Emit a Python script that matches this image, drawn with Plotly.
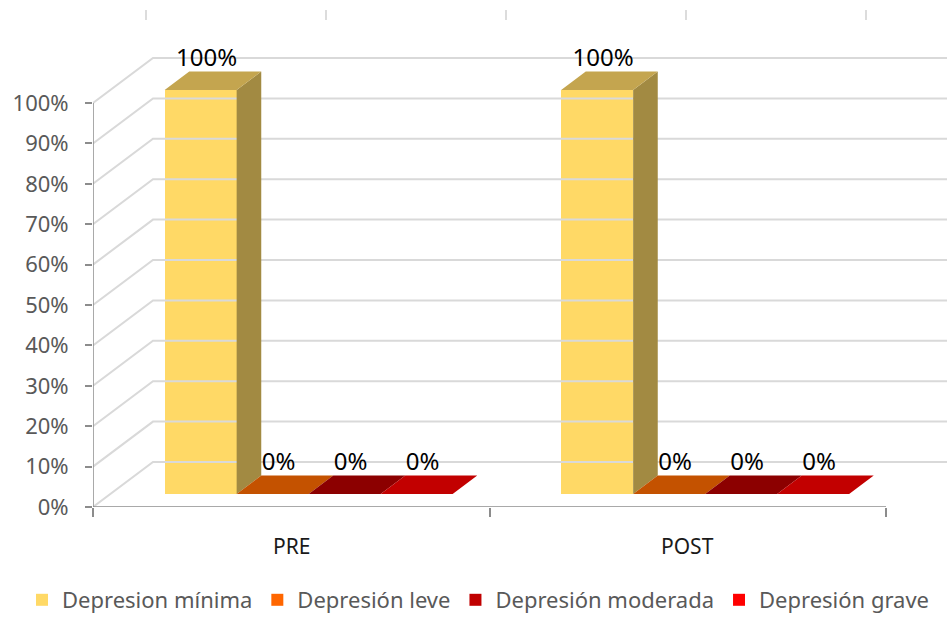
import plotly.graph_objects as go

# ---------------- data ----------------
categories = ["PRE", "POST"]
series_names = ["Depresion mínima", "Depresión leve", "Depresión moderada", "Depresión grave"]
pre_values = [100, 0, 0, 0]
post_values = [100, 0, 0, 0]
y_tick_values = [0, 10, 20, 30, 40, 50, 60, 70, 80, 90, 100]
y_tick_labels = [f"{v}%" for v in y_tick_values]

# ---------------- styles ----------------
front_colors = ["#FFD966", "#FF6600", "#C00000", "#FF0000"]
top_colors = ["#C4A54F", "#C45200", "#8C0000", "#C20000"]
side_colors = ["#A28A42", "#A04300", "#700000", "#9C0000"]
grid_color = "#D9D9D9"
axis_color = "#8C8C8C"
FONT = "Noto Sans"

# geometry (x units = pixels, y units = percent)
CAT_W = 396.5            # width of one category on the front plane
PX_PER_PCT = 4.04        # vertical pixels per percent
FLOOR_DX = 60.0          # depth offset of the back wall (x units)
FLOOR_DY = 45.0 / PX_PER_PCT
BAR_W = 72.0
F_FRONT = 0.29           # bar front position in depth (fraction)
F_DEPTH = 0.41           # bar depth (fraction)
b_dx, b_dy = FLOOR_DX * F_FRONT, FLOOR_DY * F_FRONT
d_dx, d_dy = FLOOR_DX * F_DEPTH, FLOOR_DY * F_DEPTH

values_by_cat = [pre_values, post_values]
n_series = len(series_names)
x_max = CAT_W * len(categories)

fig = go.Figure()

# back wall gridlines + left wall diagonals
gx, gy = [], []
for v in y_tick_values:
    gx += [0, FLOOR_DX, x_max + FLOOR_DX + 2, None]
    gy += [v, v + FLOOR_DY, v + FLOOR_DY, None]
fig.add_trace(go.Scatter(x=gx, y=gy, mode="lines", line=dict(color=grid_color, width=2),
                         hoverinfo="skip", showlegend=False))

# bars
label_x, label_y, label_t = [], [], []
for j, name in enumerate(series_names):
    lefts = []
    vals = []
    for i, cat in enumerate(categories):
        c = CAT_W * (i + 0.5)
        left = c + b_dx - (n_series / 2) * BAR_W + j * BAR_W
        lefts.append(left)
        vals.append(values_by_cat[i][j])
    fig.add_trace(go.Bar(
        x=[l + BAR_W / 2 for l in lefts], y=vals, base=[b_dy] * len(vals), width=BAR_W,
        marker=dict(color=front_colors[j], line=dict(width=0)), name=name,
        hoverinfo="skip", showlegend=True))
    tx, ty, sx, sy = [], [], [], []
    for l, v in zip(lefts, vals):
        top = v + b_dy
        tx += [l, l + BAR_W, l + BAR_W + d_dx, l + d_dx, l, None]
        ty += [top, top, top + d_dy, top + d_dy, top, None]
        sx += [l + BAR_W, l + BAR_W, l + BAR_W + d_dx, l + BAR_W + d_dx, l + BAR_W, None]
        sy += [b_dy, top, top + d_dy, b_dy + d_dy, b_dy, None]
        label_x.append(l + BAR_W / 2 + 6)
        label_y.append(top + d_dy)
        label_t.append(f"{v}%")
    fig.add_trace(go.Scatter(x=sx, y=sy, mode="lines", fill="toself", fillcolor=side_colors[j],
                             line=dict(width=0, color=side_colors[j]), hoverinfo="skip",
                             showlegend=False))
    fig.add_trace(go.Scatter(x=tx, y=ty, mode="lines", fill="toself", fillcolor=top_colors[j],
                             line=dict(width=0, color=top_colors[j]), hoverinfo="skip",
                             showlegend=False))

# data labels
fig.add_trace(go.Scatter(x=label_x, y=label_y, mode="text", text=label_t,
                         textposition="top center",
                         textfont=dict(family=FONT, size=24, color="#000000"),
                         hoverinfo="skip", showlegend=False))

# axis lines
fig.add_trace(go.Scatter(x=[0, 0, None, 0, x_max], y=[y_tick_values[-1], 0, None, 0, 0],
                         mode="lines", line=dict(color=axis_color, width=1.5),
                         hoverinfo="skip", showlegend=False))

# category labels
for i, cat in enumerate(categories):
    fig.add_annotation(x=CAT_W * (i + 0.5), y=0, yshift=-39, text=cat, showarrow=False,
                       font=dict(family=FONT, size=21, color="#1A1A1A"))

# faint marks at the top
for k in range(5):
    xp = (146 + 180 * k - 93) / 854
    fig.add_shape(type="line", xref="paper", yref="paper", x0=xp, x1=xp,
                  y0=(507 - 10) / 507, y1=(507 - 20) / 507,
                  line=dict(color="#D0D0D0", width=1.5))

fig.update_layout(
    width=947, height=622,
    margin=dict(l=93, r=0, t=0, b=115),
    paper_bgcolor="white", plot_bgcolor="white",
    barmode="overlay", bargap=0,
    font=dict(family=FONT),
    xaxis=dict(range=[0, 854], showgrid=False, zeroline=False, showline=False,
               showticklabels=False, tickmode="array", automargin=False,
               tickvals=[CAT_W * k for k in range(len(categories) + 1)],
               ticks="outside", ticklen=9, tickcolor=axis_color, tickwidth=1.5,
               fixedrange=True),
    yaxis=dict(range=[0, 507 / PX_PER_PCT], showgrid=False, zeroline=False, showline=False,
               tickmode="array", tickvals=y_tick_values, ticktext=y_tick_labels,
               automargin=False,
               ticks="outside", ticklen=7, tickcolor=axis_color, tickwidth=1.5,
               ticklabelstandoff=12,
               tickfont=dict(family=FONT, size=22, color="#595959"), fixedrange=True),
    legend=dict(orientation="h", xref="paper", yref="paper",
                x=(22 - 93) / 854, y=(507 - 621) / 507, xanchor="left", yanchor="bottom",
                font=dict(family=FONT, size=22, color="#595959"),
                itemwidth=30, traceorder="normal", bgcolor="rgba(0,0,0,0)"),
    showlegend=True,
)

fig.write_html("out.html", config={"displayModeBar": False},
               post_script="document.body.style.margin='0px';")
